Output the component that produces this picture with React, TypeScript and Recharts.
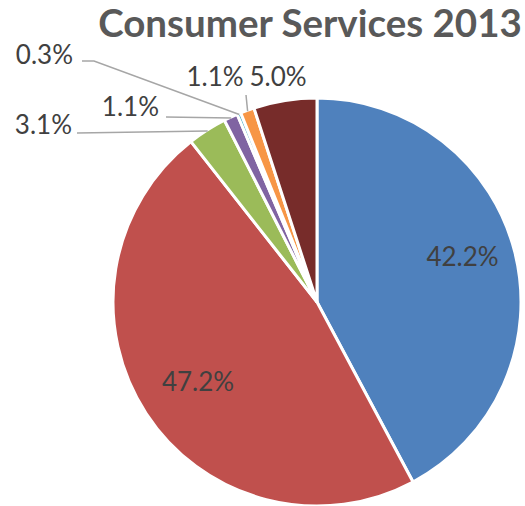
import { PieChart, Pie, Cell } from 'recharts';

const categories = ['A', 'B', 'C', 'D', 'E', 'F', 'G'];
const shares = [42.2, 47.2, 3.1, 1.1, 0.3, 1.1, 5.0];
const COLORS = ['#4F81BD', '#C0504D', '#9BBB59', '#8064A2', '#4BACC6', '#F79646', '#772C2A'];

const data = categories.map((name, i) => ({ name, value: shares[i] }));

const RAD = Math.PI / 180;
const FONT = 'Lato, "Open Sans", sans-serif';

// label placement per slice (inside radius, or fixed text spot + leader bend)
type LabelSpot =
  | { kind: 'inside'; r: number; dy: number }
  | { kind: 'outside'; x: number; y: number; anchor: 'start' | 'middle' | 'end'; line: number[][] };

const LABEL_SPOTS: LabelSpot[] = [
  { kind: 'inside', r: 150, dy: -9 },
  { kind: 'inside', r: 142, dy: 2 },
  { kind: 'outside', x: 72, y: 134, anchor: 'end', line: [[77, 133]] },
  { kind: 'outside', x: 159, y: 116, anchor: 'end', line: [[166, 117]] },
  { kind: 'outside', x: 73, y: 64, anchor: 'end', line: [[94, 61], [82, 61]] },
  { kind: 'outside', x: 215, y: 86, anchor: 'middle', line: [[246, 95]] },
  { kind: 'outside', x: 278, y: 86, anchor: 'middle', line: [] },
];

const renderLabel = (props: any) => {
  const { cx, cy, midAngle, outerRadius, index, value } = props;
  const spot = LABEL_SPOTS[index];
  const text = `${Number(value).toFixed(1)}%`;
  const textProps = { fontFamily: FONT, fontSize: 26, fill: '#404040' };
  if (spot.kind === 'inside') {
    const x = cx + spot.r * Math.cos(-midAngle * RAD);
    const y = cy + spot.r * Math.sin(-midAngle * RAD) + spot.dy;
    return (
      <text key={`l-${index}`} x={x} y={y + 9} textAnchor="middle" {...textProps}>
        {text}
      </text>
    );
  }
  const sx = cx + (outerRadius - 1) * Math.cos(-midAngle * RAD);
  const sy = cy + (outerRadius - 1) * Math.sin(-midAngle * RAD);
  const pts = spot.line.length ? [[sx, sy], ...spot.line] : [];
  return (
    <g key={`l-${index}`}>
      {pts.length > 0 && (
        <polyline
          points={pts.map((p) => p.join(',')).join(' ')}
          fill="none"
          stroke="#A6A6A6"
          strokeWidth={1.5}
        />
      )}
      <text x={spot.x} y={spot.y} textAnchor={spot.anchor} {...textProps}>
        {text}
      </text>
    </g>
  );
};

export default function App() {
  return (
    <div style={{ position: 'absolute', left: 0, top: 0, width: 525, height: 506, background: '#fff' }}>
      <PieChart width={525} height={506}>
        <Pie
          data={data}
          dataKey="value"
          cx={312}
          cy={297}
          outerRadius={204}
          startAngle={90}
          endAngle={-270}
          stroke="#fff"
          strokeWidth={3}
          label={renderLabel}
          labelLine={false}
          isAnimationActive={false}
        >
          {data.map((entry, i) => (
            <Cell key={`cell-${i}`} fill={COLORS[i]} />
          ))}
        </Pie>
      </PieChart>
      <svg width={525} height={60} style={{ position: 'absolute', left: 0, top: 0 }}>
        <text x={310} y={37} textAnchor="middle" fontFamily={FONT} fontWeight={700} fontSize={38.5} fill="#595959">
          Consumer Services 2013
        </text>
      </svg>
    </div>
  );
}
